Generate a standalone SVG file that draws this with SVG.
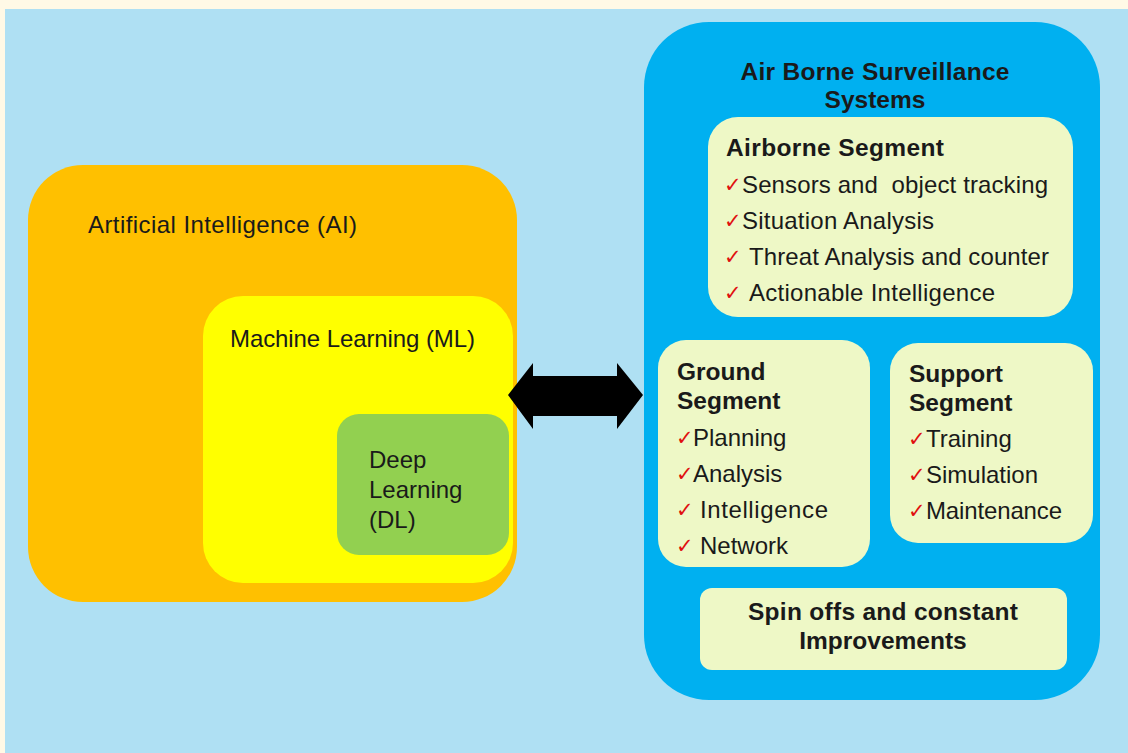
<svg xmlns="http://www.w3.org/2000/svg" width="1128" height="753" viewBox="0 0 1128 753">
<defs>
<style>
text{font-family:"Liberation Sans",Arial,sans-serif;fill:#1a1a1a;font-size:24px}
.b{font-weight:bold;font-size:24.5px}
.ck{fill:#e01010;font-family:"DejaVu Sans",sans-serif;font-size:21px}
.seg{fill:#eef8c6}
.pre{white-space:pre}
</style>
</defs>
<rect x="0" y="0" width="1128" height="753" fill="#fff9e6"/>
<rect x="5" y="9" width="1123" height="744" fill="#afe0f3"/>
<g id="ai">
<rect x="28" y="165" width="489" height="437" rx="55" fill="#ffc000"/>
<text x="88" y="233" textLength="269">Artificial Intelligence (AI)</text>
</g>
<g id="ml">
<rect x="203" y="296" width="310" height="287" rx="40" fill="#ffff00"/>
<text x="230" y="347" textLength="245">Machine Learning (ML)</text>
</g>
<g id="dl">
<rect x="337" y="414" width="172" height="141" rx="22" fill="#92d050"/>
<text x="369" y="468">Deep</text>
<text x="369" y="498">Learning</text>
<text x="369" y="528">(DL)</text>
</g>
<g id="connectors">
<polygon points="508,395 533,363 533,376 617,376 617,363 643,395 617,429 617,416 533,416 533,429" fill="#000"/>
</g>
<g id="abs">
<rect x="644" y="22" width="456" height="678" rx="65" fill="#00b0f0"/>
<text class="b" x="875" y="80" text-anchor="middle" textLength="269">Air Borne Surveillance</text>
<text class="b" x="875" y="108" text-anchor="middle">Systems</text>
</g>
<g id="airborne">
<rect class="seg" x="708" y="117" width="365" height="200" rx="30"/>
<text class="b" x="726" y="156" textLength="218">Airborne Segment</text>
<text class="ck" x="724" y="192">✓</text><text class="pre" x="742" y="193" textLength="306">Sensors and  object tracking</text>
<text class="ck" x="724" y="228">✓</text><text x="742" y="229" textLength="192">Situation Analysis</text>
<text class="ck" x="724" y="264">✓</text><text x="749" y="265" textLength="300">Threat Analysis and counter</text>
<text class="ck" x="724" y="300">✓</text><text x="749" y="301" textLength="246">Actionable Intelligence</text>
</g>
<g id="ground">
<rect class="seg" x="658" y="340" width="212" height="227" rx="28"/>
<text class="b" x="677" y="380">Ground</text>
<text class="b" x="677" y="409">Segment</text>
<text class="ck" x="676" y="445">✓</text><text x="693" y="446">Planning</text>
<text class="ck" x="676" y="481">✓</text><text x="693" y="482">Analysis</text>
<text class="ck" x="676" y="517">✓</text><text x="700" y="518" textLength="128">Intelligence</text>
<text class="ck" x="676" y="553">✓</text><text x="700" y="554">Network</text>
</g>
<g id="support">
<rect class="seg" x="890" y="343" width="203" height="200" rx="28"/>
<text class="b" x="909" y="382">Support</text>
<text class="b" x="909" y="411">Segment</text>
<text class="ck" x="908" y="446">✓</text><text x="926" y="447">Training</text>
<text class="ck" x="908" y="482">✓</text><text x="926" y="483">Simulation</text>
<text class="ck" x="908" y="518">✓</text><text x="926" y="519" textLength="136">Maintenance</text>
</g>
<g id="spinoffs">
<rect class="seg" x="700" y="588" width="367" height="82" rx="12"/>
<text class="b" x="883" y="620" text-anchor="middle" textLength="270">Spin offs and constant</text>
<text class="b" x="883" y="649" text-anchor="middle">Improvements</text>
</g>
</svg>
